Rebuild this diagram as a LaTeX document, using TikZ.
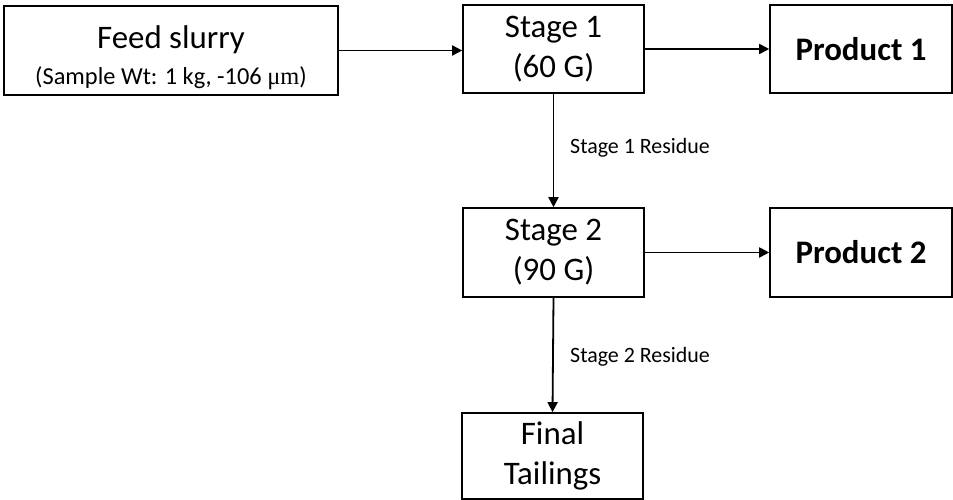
\documentclass[tikz,border=0pt]{standalone}
\usepackage{fontspec}
\setmainfont{Carlito}
\newfontfamily\tmsfont{Liberation Serif}
\usetikzlibrary{arrows.meta}
\begin{document}
\begin{tikzpicture}[x=1bp,y=-1bp,
  box/.style={draw=black,line width=1.6bp,rectangle,inner sep=0pt,align=center,text=black},
  flow/.style={draw=black,line width=1.8bp,-{Triangle[length=10bp,width=10bp]}},
  lbl/.style={font=\fontsize{22}{26}\selectfont,anchor=west,inner sep=0pt}]
\useasboundingbox (0,0) rectangle (953,500);
\node[box,minimum width=334bp,minimum height=89bp,font=\fontsize{24.5}{36}\selectfont] (feed) at (171,50.5)
  {\rule{0pt}{38bp}{\fontsize{33}{36}\selectfont Feed slurry}\\(Sample Wt: 1 kg, -106 {\tmsfont μm})};
\node[box,minimum width=181bp,minimum height=88bp,font=\fontsize{33}{40}\selectfont] (s1) at (553.5,49) {Stage 1\\(60 G)};
\node[box,minimum width=182bp,minimum height=88bp,font=\fontsize{33}{40}\selectfont\bfseries] (p1) at (861,49) {Product 1};
\node[box,minimum width=181bp,minimum height=89bp,font=\fontsize{33}{40}\selectfont] (s2) at (553.5,252.5) {Stage 2\\(90 G)};
\node[box,minimum width=182bp,minimum height=89bp,font=\fontsize{33}{40}\selectfont\bfseries] (p2) at (861,252.5) {Product 2};
\node[box,minimum width=181bp,minimum height=86bp,font=\fontsize{33}{40}\selectfont] (ft) at (552.5,456) {Final\\Tailings};
\draw[flow] (feed.east) -- (feed.east -| s1.west);
\draw[flow] (s1.east) -- (s1.east -| p1.west);
\draw[flow] (s2.east) -- (s2.east -| p2.west);
\draw[flow] (s1.south) -- (s2.north);
\draw[flow] (s2.south) -- (ft.north);
\node[lbl] (r1) at (570,148) {Stage 1 Residue};
\node[lbl] (r2) at (570,357) {Stage 2 Residue};
\end{tikzpicture}
\end{document}
